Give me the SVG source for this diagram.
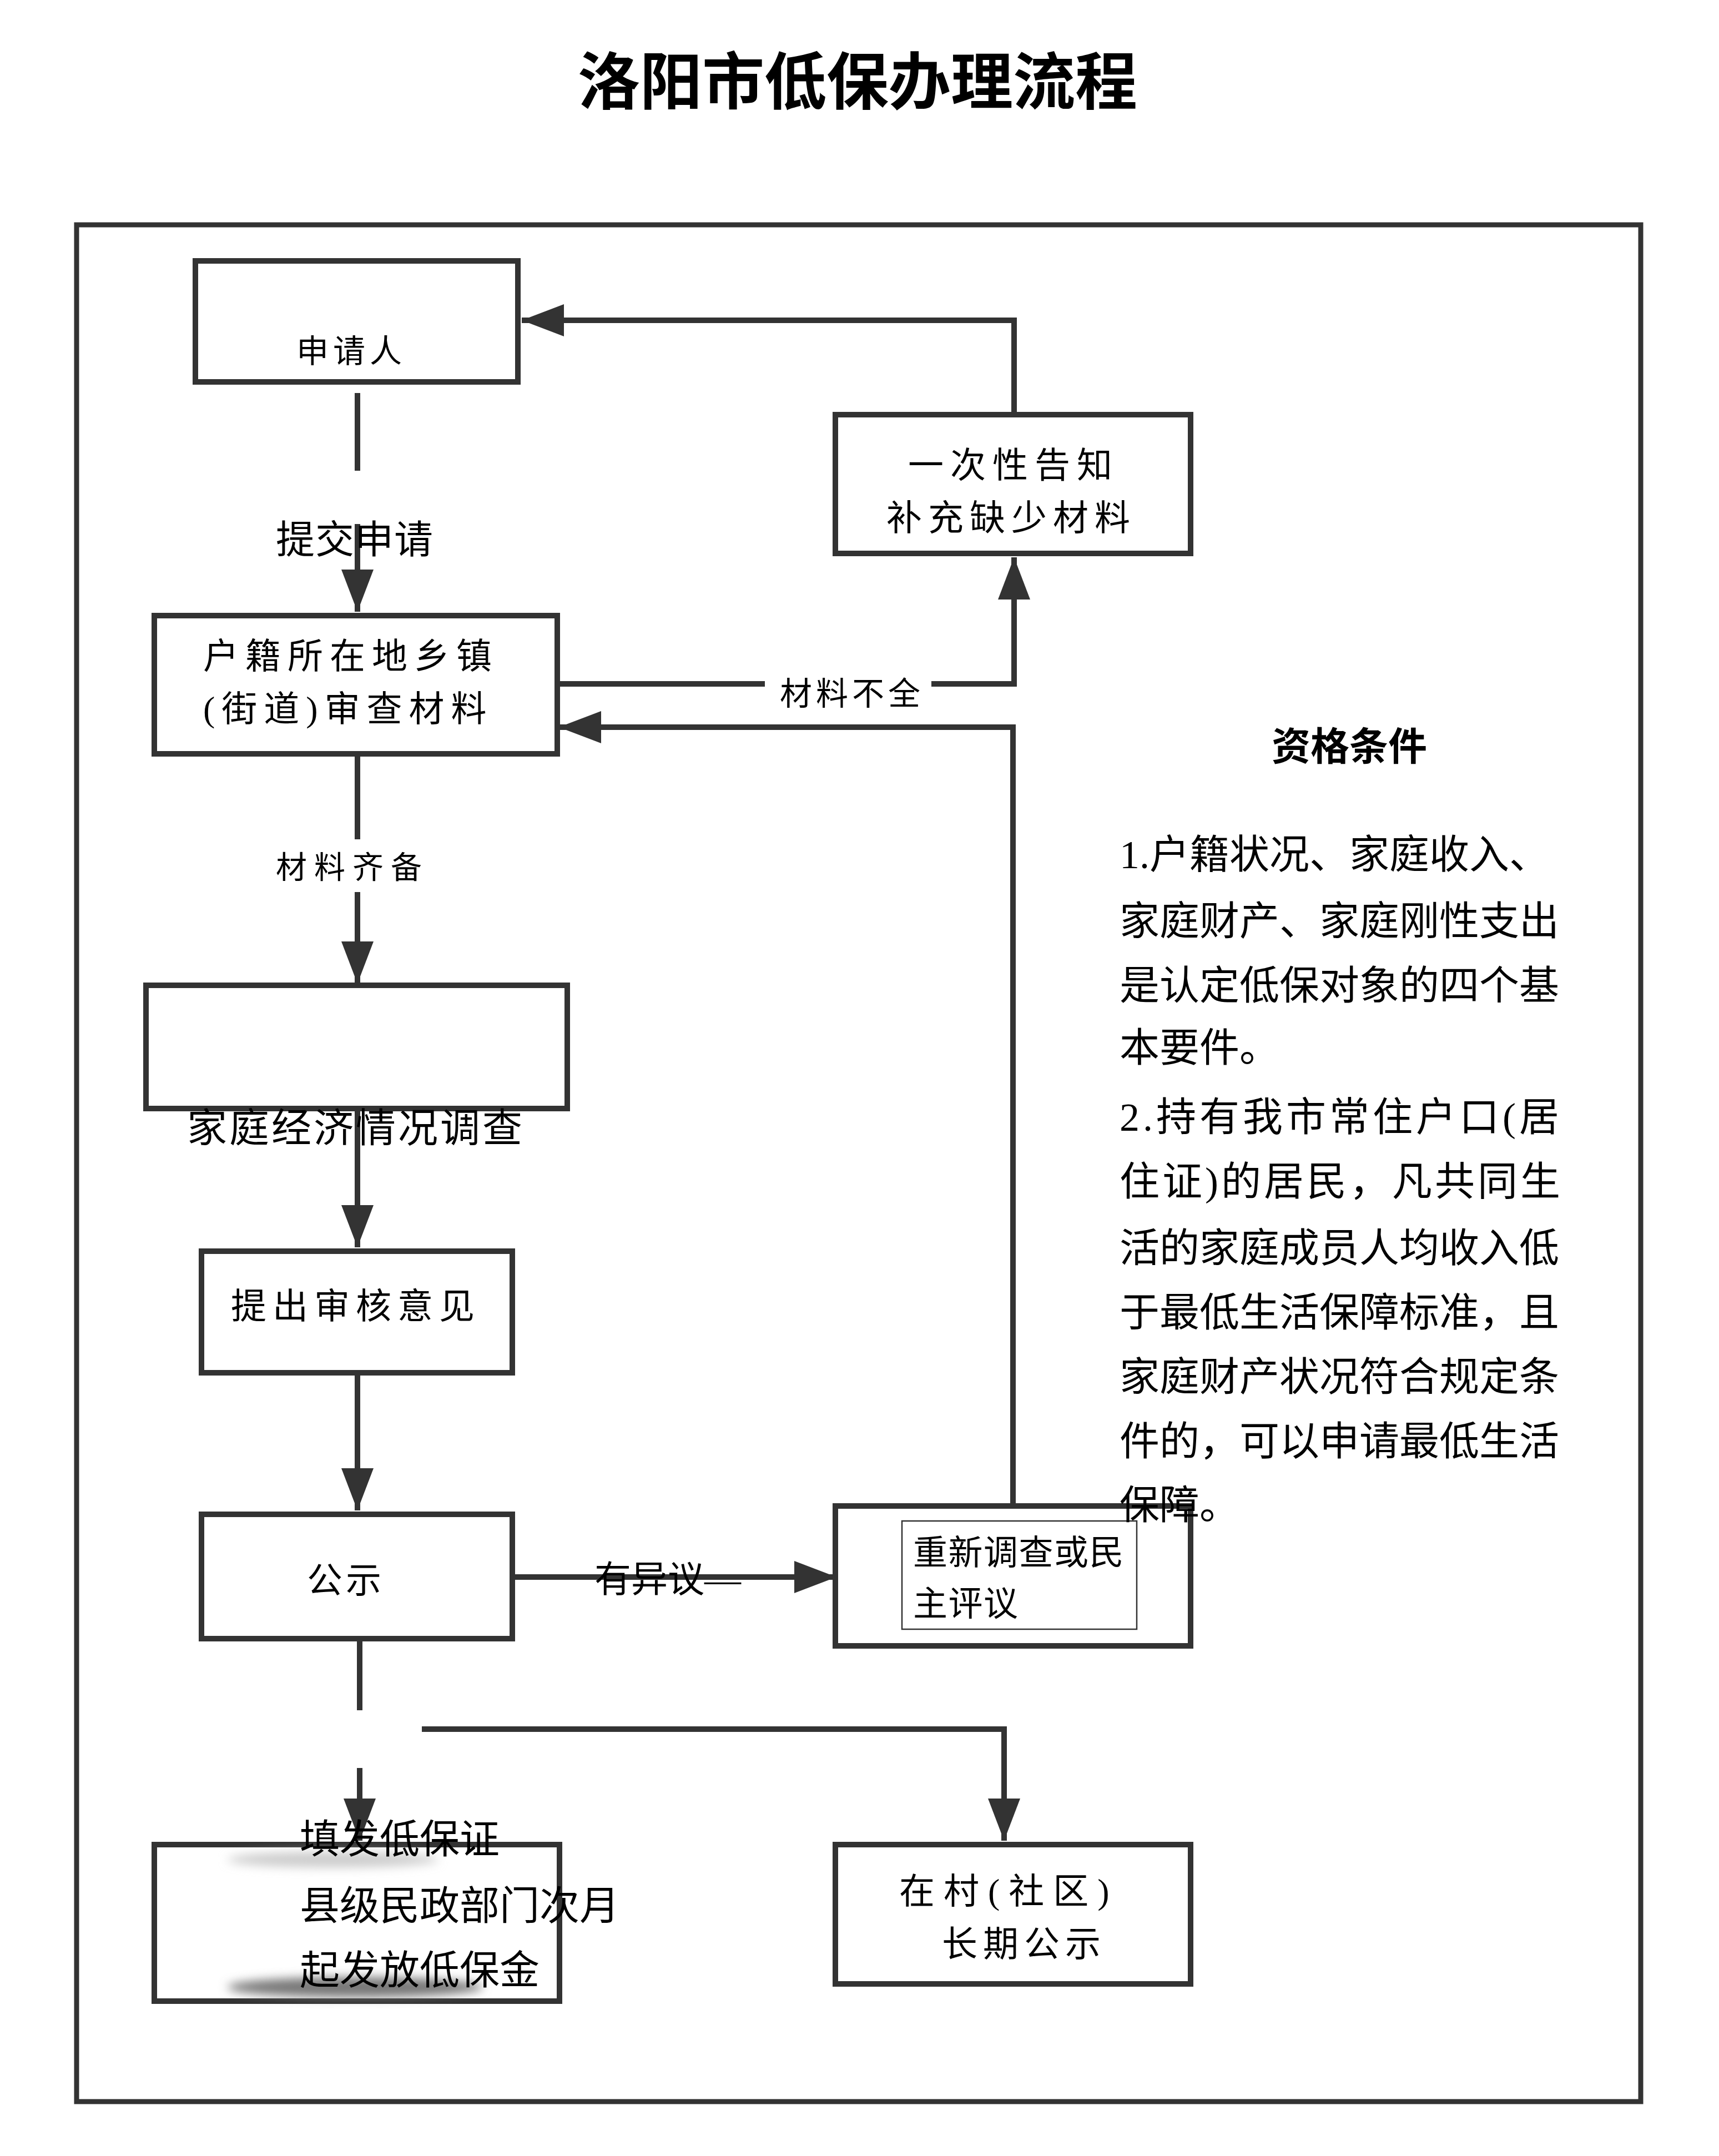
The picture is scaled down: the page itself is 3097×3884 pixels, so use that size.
<svg xmlns="http://www.w3.org/2000/svg" width="3097" height="3884" viewBox="0 0 3097 3884">
<style>
.box{fill:#fff;stroke:#333;stroke-width:10}
.thin{fill:none;stroke:#333;stroke-width:2.5}
.ln{fill:none;stroke:#333;stroke-width:10;stroke-linejoin:miter}
.t{font-family:"Liberation Serif","Noto Sans CJK SC",serif;fill:#000}
.title{font-family:"Noto Sans CJK SC",sans-serif;font-weight:bold;font-size:112px;fill:#000}
.hd{font-family:"Noto Sans CJK SC",sans-serif;font-weight:bold;font-size:70px;fill:#000}
.p{font-family:"Liberation Serif","Noto Sans CJK SC",serif;font-size:72px;fill:#000}
</style>
<defs>
<marker id="arr" markerUnits="userSpaceOnUse" markerWidth="78" markerHeight="58" viewBox="0 0 78 58" refX="76" refY="29" orient="auto">
<path d="M0,0 L76,29 L0,58 Z" fill="#333"/>
</marker>
<filter id="blur" x="-20%" y="-100%" width="140%" height="300%"><feGaussianBlur stdDeviation="9"/></filter>
</defs>
<rect width="3097" height="3884" fill="#fff"/>

<g id="title"><text class="title" x="1545" y="188" text-anchor="middle">洛阳市低保办理流程</text></g>

<g id="frame"><rect x="138" y="405" width="2818" height="3381" fill="none" stroke="#333" stroke-width="9"/></g>

<g id="connectors">
<path class="ln" d="M644 708 V848"/>
<path class="ln" d="M644 944 V1102" marker-end="url(#arr)"/>
<path class="ln" d="M1009 1232 H1378"/>
<path class="ln" d="M1678 1232 H1827 V1004" marker-end="url(#arr)"/>
<path class="ln" d="M1827 742 V577 H940" marker-end="url(#arr)"/>
<path class="ln" d="M1825 2708 V1310 H1007" marker-end="url(#arr)"/>
<path class="ln" d="M644 1363 V1512"/>
<path class="ln" d="M644 1607 V1772" marker-end="url(#arr)"/>
<path class="ln" d="M644 2002 V2247" marker-end="url(#arr)"/>
<path class="ln" d="M644 2478 V2721" marker-end="url(#arr)"/>
<path class="ln" d="M928 2841 H1507" marker-end="url(#arr)"/>
<path class="ln" d="M648 2957 V3081"/>
<path class="ln" d="M648 3185 V3316" marker-end="url(#arr)"/>
<path class="ln" d="M760 3115 H1809 V3316" marker-end="url(#arr)"/>
<text class="t" x="497" y="997" font-size="70" letter-spacing="1">提交申请</text>
<text class="t" x="1405" y="1270" font-size="58" letter-spacing="7">材料不全</text>
<text class="t" x="497" y="1582" font-size="56" letter-spacing="13">材料齐备</text>
<text class="t" x="1071" y="2868" font-size="66">有异议—</text>
</g>

<g id="node-applicant">
<rect class="box" x="352" y="470" width="581" height="218"/>
<text class="t" x="534" y="653" font-size="58" letter-spacing="8">申请人</text>
</g>

<g id="node-notify">
<rect class="box" x="1505" y="747" width="640" height="250"/>
<text class="t" x="1636" y="860" font-size="64" letter-spacing="12">一次性告知</text>
<text class="t" x="1597" y="955" font-size="64" letter-spacing="11">补充缺少材料</text>
</g>

<g id="node-review">
<rect class="box" x="278" y="1109" width="726" height="249"/>
<text class="t" x="366" y="1204" font-size="64" letter-spacing="12">户籍所在地乡镇</text>
<text class="t" x="366" y="1299" font-size="64" letter-spacing="12">(街道)审查材料</text>
</g>

<g id="node-survey">
<rect class="box" x="263" y="1775" width="759" height="222"/>
<text class="t" x="337" y="2057" font-size="72" letter-spacing="4">家庭经济情况调查</text>
</g>

<g id="node-opinion">
<rect class="box" x="363" y="2254" width="560" height="219"/>
<text class="t" x="416" y="2375" font-size="64" letter-spacing="11">提出审核意见</text>
</g>

<g id="node-publicity">
<rect class="box" x="363" y="2728" width="560" height="224"/>
<text class="t" x="553" y="2869" font-size="64" letter-spacing="6">公示</text>
</g>

<g id="node-reinvestigate">
<rect class="box" x="1505" y="2713" width="640" height="252"/>
<rect class="thin" x="1625" y="2740" width="423" height="195"/>
<text class="t" x="1645" y="2819" font-size="62" letter-spacing="1.5">重新调查或民</text>
<text class="t" x="1645" y="2911" font-size="62" letter-spacing="1.5">主评议</text>
</g>

<g id="node-issue">
<rect class="box" x="278" y="3323" width="730" height="282"/>
<ellipse cx="600" cy="3350" rx="190" ry="14" fill="#ccc" filter="url(#blur)"/>
<ellipse cx="640" cy="3580" rx="230" ry="18" fill="#777" filter="url(#blur)"/>
<text class="t" x="540" y="3338" font-size="72">填发低保证</text>
<text class="t" x="540" y="3458" font-size="72">县级民政部门次月</text>
<text class="t" x="540" y="3574" font-size="72">起发放低保金</text>
</g>

<g id="node-village">
<rect class="box" x="1505" y="3323" width="640" height="251"/>
<text class="t" x="1620" y="3429" font-size="64" letter-spacing="16">在村(社区)</text>
<text class="t" x="1697" y="3524" font-size="64" letter-spacing="10">长期公示</text>
</g>

<g id="conditions">
<text class="hd" x="2291" y="1370">资格条件</text>
<text class="p" x="2017" y="1564">1.户籍状况、家庭收入、</text>
<text class="p" x="2017" y="1684">家庭财产、家庭刚性支出</text>
<text class="p" x="2017" y="1800">是认定低保对象的四个基</text>
<text class="p" x="2017" y="1912">本要件。</text>
<text class="p" x="2017" y="2037" letter-spacing="6">2.持有我市常住户口(居</text>
<text class="p" x="2017" y="2153" letter-spacing="5">住证)的居民，凡共同生</text>
<text class="p" x="2017" y="2273">活的家庭成员人均收入低</text>
<text class="p" x="2017" y="2389">于最低生活保障标准，且</text>
<text class="p" x="2017" y="2505">家庭财产状况符合规定条</text>
<text class="p" x="2017" y="2621">件的，可以申请最低生活</text>
<text class="p" x="2017" y="2736">保障。</text>
</g>
</svg>
